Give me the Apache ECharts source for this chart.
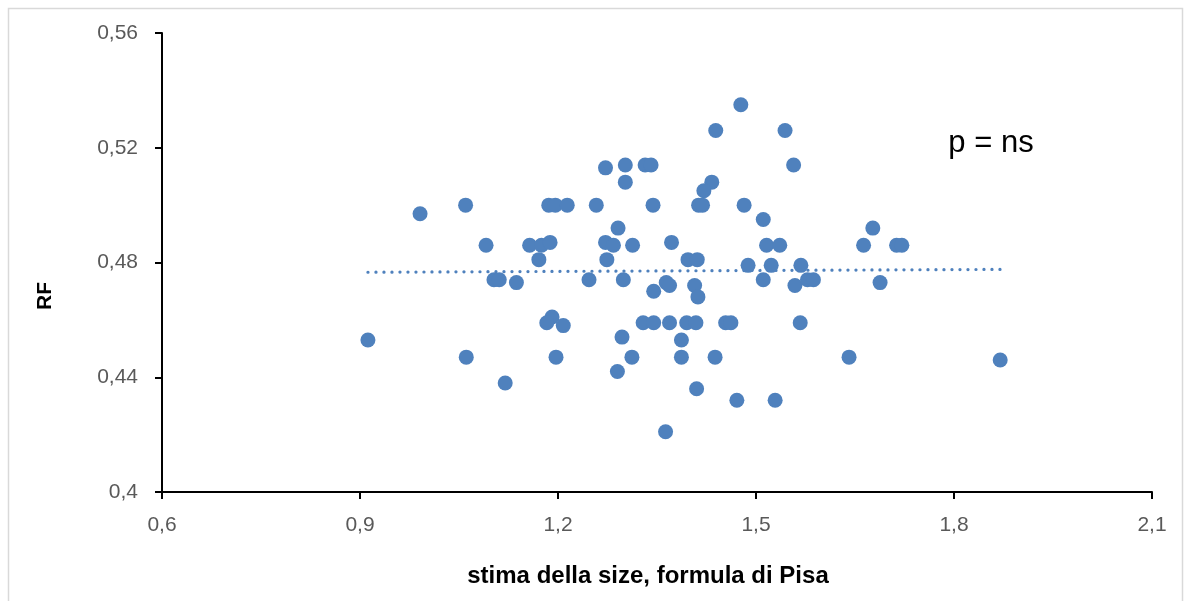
<!DOCTYPE html>
<html>
<head>
<meta charset="utf-8">
<script src="https://cdn.jsdelivr.net/npm/echarts@6/dist/echarts.min.js"></script>
<style>
html,body{margin:0;padding:0;background:#fff;}
#c{width:1186px;height:601px;}
</style>
</head>
<body>
<div id="c"></div>
<script>
// stima della size (x), RF (y)
var xValues = [
  0.991, 1.060, 1.186, 1.196, 1.214, 1.091, 1.157, 1.175, 1.188, 1.171,
  1.103, 1.111, 1.137, 1.247, 1.191, 1.183, 1.208, 0.912, 1.061, 1.197,
  1.120,
  1.477, 1.439, 1.544, 1.272, 1.302, 1.332, 1.341, 1.557, 1.302, 1.433,
  1.421, 1.258, 1.344, 1.413, 1.419, 1.482, 1.511, 1.291, 1.272, 1.284,
  1.313, 1.372, 1.516, 1.536, 1.274, 1.397, 1.411, 1.488, 1.523, 1.568,
  1.299, 1.511, 1.345, 1.364, 1.369, 1.407, 1.412, 1.559, 1.578, 1.587,
  1.329, 1.345, 1.369, 1.395, 1.409, 1.454, 1.462, 1.567, 1.297, 1.387,
  1.312, 1.387, 1.438, 1.290, 1.410, 1.471, 1.529, 1.363,
  1.677, 1.663, 1.713, 1.721, 1.688, 1.641, 1.870
];
var yValues = [
  0.497, 0.500, 0.500, 0.500, 0.500, 0.486, 0.486, 0.486, 0.487, 0.481,
  0.474, 0.474, 0.473, 0.474, 0.461, 0.459, 0.458, 0.453, 0.447, 0.447,
  0.438,
  0.535, 0.526, 0.526, 0.513, 0.514, 0.514, 0.514, 0.514, 0.508, 0.508,
  0.505, 0.500, 0.500, 0.500, 0.500, 0.500, 0.495, 0.492, 0.487, 0.486,
  0.486, 0.487, 0.486, 0.486, 0.481, 0.481, 0.481, 0.479, 0.479, 0.479,
  0.474, 0.474, 0.470, 0.473, 0.472, 0.472, 0.468, 0.472, 0.474, 0.474,
  0.459, 0.459, 0.459, 0.459, 0.459, 0.459, 0.459, 0.459, 0.454, 0.453,
  0.447, 0.447, 0.447, 0.442, 0.436, 0.432, 0.432, 0.421,
  0.492, 0.486, 0.486, 0.486, 0.473, 0.447, 0.446
];
// linear trend line end points
var trendX = [0.912, 1.870];
var trendY = [0.4766, 0.4776];
var xTicks = {min: 0.6, max: 2.1, interval: 0.3};
var yTicks = {min: 0.4, max: 0.56, interval: 0.04};

var points = xValues.map(function (x, i) { return [x, yValues[i]]; });
var trend = trendX.map(function (x, i) { return [x, trendY[i]]; });

var FONT = '"Liberation Sans", Arial, sans-serif';
var chart = echarts.init(document.getElementById('c'), null, {renderer: 'canvas'});
chart.setOption({
  animation: false,
  backgroundColor: '#ffffff',
  grid: {left: 162, right: 34, top: 33, bottom: 109, containLabel: false},
  xAxis: {
    type: 'value', min: xTicks.min, max: xTicks.max, interval: xTicks.interval,
    axisLine: {show: true, lineStyle: {color: '#000', width: 2}},
    axisTick: {show: true, inside: false, length: 7, lineStyle: {color: '#000', width: 2}},
    splitLine: {show: false},
    axisLabel: {margin: 23, color: '#595959', fontSize: 21, fontFamily: FONT,
      formatter: function (v) { return String(+v.toFixed(1)).replace('.', ','); }}
  },
  yAxis: {
    type: 'value', min: yTicks.min, max: yTicks.max, interval: yTicks.interval,
    axisLine: {show: true, onZero: false, lineStyle: {color: '#000', width: 2}},
    axisTick: {show: true, inside: false, length: 7, lineStyle: {color: '#000', width: 2}},
    splitLine: {show: false},
    axisLabel: {margin: 24, color: '#595959', fontSize: 21, fontFamily: FONT,
      formatter: function (v) { return String(+v.toFixed(2)).replace('.', ','); }}
  },
  series: [
    {
      type: 'line', data: trend, symbol: 'none', silent: true, z: 3,
      lineStyle: {color: '#4F81BD', width: 3.2, type: [0.1, 7.9], cap: 'round'}
    },
    {
      type: 'scatter', data: points, symbol: 'circle', symbolSize: 15, z: 4,
      itemStyle: {color: '#4F81BD', opacity: 1}
    }
  ],
  graphic: [
    {type: 'rect', shape: {x: 8.5, y: 8.5, width: 1174, height: 620},
      style: {fill: 'none', stroke: '#d9d9d9', lineWidth: 1.5}, silent: true, z: -1},
    {type: 'text', x: 991, y: 143,
      style: {text: 'p = ns', fill: '#000', font: '31px ' + FONT, textAlign: 'center', textVerticalAlign: 'middle'}},
    {type: 'text', x: 648, y: 576,
      style: {text: 'stima della size, formula di Pisa', fill: '#000', font: 'bold 24px ' + FONT, textAlign: 'center', textVerticalAlign: 'middle'}},
    {type: 'text', x: 45, y: 296, rotation: Math.PI / 2,
      style: {text: 'RF', fill: '#000', font: 'bold 21px ' + FONT, textAlign: 'center', textVerticalAlign: 'middle'}}
  ]
});
</script>
</body>
</html>
